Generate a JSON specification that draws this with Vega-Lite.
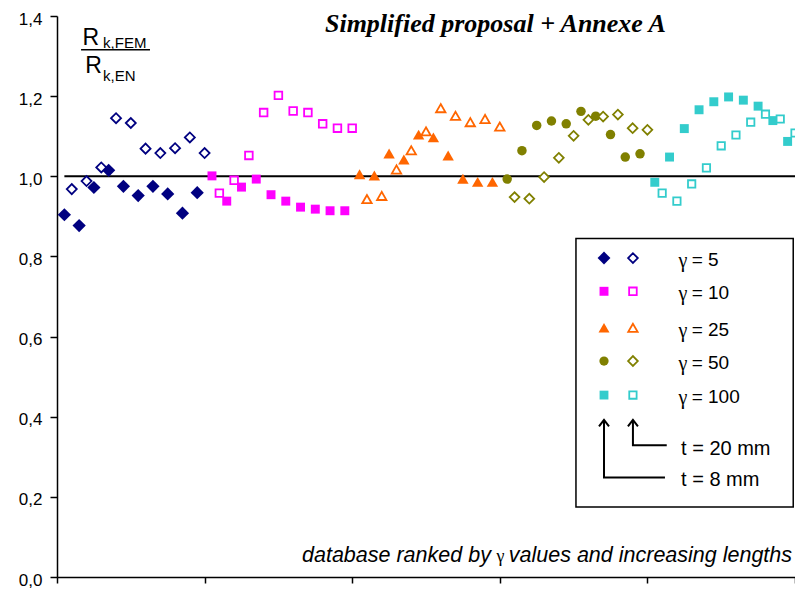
{
  "$schema": "https://vega.github.io/schema/vega-lite/v6.json",
  "width": 738,
  "height": 561,
  "autosize": {"type": "none"},
  "padding": {"left": 57, "top": 16, "right": 0, "bottom": 12},
  "background": "white",
  "config": {"view": {"stroke": null}, "font": "Liberation Sans"},
  "datasets": {
    "points": [
      {"gamma": 5, "t": 8, "n": 0.5, "ratio": 0.904},
      {"gamma": 5, "t": 8, "n": 1.5, "ratio": 0.877},
      {"gamma": 5, "t": 8, "n": 2.5, "ratio": 0.972},
      {"gamma": 5, "t": 8, "n": 3.5, "ratio": 1.015},
      {"gamma": 5, "t": 8, "n": 4.5, "ratio": 0.975},
      {"gamma": 5, "t": 8, "n": 5.5, "ratio": 0.952},
      {"gamma": 5, "t": 8, "n": 6.5, "ratio": 0.975},
      {"gamma": 5, "t": 8, "n": 7.5, "ratio": 0.956},
      {"gamma": 5, "t": 8, "n": 8.5, "ratio": 0.908},
      {"gamma": 5, "t": 8, "n": 9.5, "ratio": 0.959},
      {"gamma": 5, "t": 20, "n": 1, "ratio": 0.968},
      {"gamma": 5, "t": 20, "n": 2, "ratio": 0.988},
      {"gamma": 5, "t": 20, "n": 3, "ratio": 1.022},
      {"gamma": 5, "t": 20, "n": 4, "ratio": 1.145},
      {"gamma": 5, "t": 20, "n": 5, "ratio": 1.133},
      {"gamma": 5, "t": 20, "n": 6, "ratio": 1.069},
      {"gamma": 5, "t": 20, "n": 7, "ratio": 1.058},
      {"gamma": 5, "t": 20, "n": 8, "ratio": 1.070},
      {"gamma": 5, "t": 20, "n": 9, "ratio": 1.097},
      {"gamma": 5, "t": 20, "n": 10, "ratio": 1.058},
      {"gamma": 10, "t": 8, "n": 10.5, "ratio": 1.001},
      {"gamma": 10, "t": 8, "n": 11.5, "ratio": 0.938},
      {"gamma": 10, "t": 8, "n": 12.5, "ratio": 0.973},
      {"gamma": 10, "t": 8, "n": 13.5, "ratio": 0.993},
      {"gamma": 10, "t": 8, "n": 14.5, "ratio": 0.954},
      {"gamma": 10, "t": 8, "n": 15.5, "ratio": 0.938},
      {"gamma": 10, "t": 8, "n": 16.5, "ratio": 0.923},
      {"gamma": 10, "t": 8, "n": 17.5, "ratio": 0.918},
      {"gamma": 10, "t": 8, "n": 18.5, "ratio": 0.914},
      {"gamma": 10, "t": 8, "n": 19.5, "ratio": 0.914},
      {"gamma": 10, "t": 20, "n": 11, "ratio": 0.958},
      {"gamma": 10, "t": 20, "n": 12, "ratio": 0.990},
      {"gamma": 10, "t": 20, "n": 13, "ratio": 1.052},
      {"gamma": 10, "t": 20, "n": 14, "ratio": 1.159},
      {"gamma": 10, "t": 20, "n": 15, "ratio": 1.202},
      {"gamma": 10, "t": 20, "n": 16, "ratio": 1.163},
      {"gamma": 10, "t": 20, "n": 17, "ratio": 1.159},
      {"gamma": 10, "t": 20, "n": 18, "ratio": 1.131},
      {"gamma": 10, "t": 20, "n": 19, "ratio": 1.120},
      {"gamma": 10, "t": 20, "n": 20, "ratio": 1.120},
      {"gamma": 25, "t": 8, "n": 20.5, "ratio": 1.005},
      {"gamma": 25, "t": 8, "n": 21.5, "ratio": 1.002},
      {"gamma": 25, "t": 8, "n": 22.5, "ratio": 1.057},
      {"gamma": 25, "t": 8, "n": 23.5, "ratio": 1.042},
      {"gamma": 25, "t": 8, "n": 24.5, "ratio": 1.104},
      {"gamma": 25, "t": 8, "n": 25.5, "ratio": 1.097},
      {"gamma": 25, "t": 8, "n": 26.5, "ratio": 1.052},
      {"gamma": 25, "t": 8, "n": 27.5, "ratio": 0.994},
      {"gamma": 25, "t": 8, "n": 28.5, "ratio": 0.986},
      {"gamma": 25, "t": 8, "n": 29.5, "ratio": 0.986},
      {"gamma": 25, "t": 20, "n": 21, "ratio": 0.943},
      {"gamma": 25, "t": 20, "n": 22, "ratio": 0.951},
      {"gamma": 25, "t": 20, "n": 23, "ratio": 1.017},
      {"gamma": 25, "t": 20, "n": 24, "ratio": 1.065},
      {"gamma": 25, "t": 20, "n": 25, "ratio": 1.112},
      {"gamma": 25, "t": 20, "n": 26, "ratio": 1.170},
      {"gamma": 25, "t": 20, "n": 27, "ratio": 1.151},
      {"gamma": 25, "t": 20, "n": 28, "ratio": 1.135},
      {"gamma": 25, "t": 20, "n": 29, "ratio": 1.143},
      {"gamma": 25, "t": 20, "n": 30, "ratio": 1.124},
      {"gamma": 50, "t": 8, "n": 30.5, "ratio": 0.993},
      {"gamma": 50, "t": 8, "n": 31.5, "ratio": 1.064},
      {"gamma": 50, "t": 8, "n": 32.5, "ratio": 1.127},
      {"gamma": 50, "t": 8, "n": 33.5, "ratio": 1.138},
      {"gamma": 50, "t": 8, "n": 34.5, "ratio": 1.131},
      {"gamma": 50, "t": 8, "n": 35.5, "ratio": 1.162},
      {"gamma": 50, "t": 8, "n": 36.5, "ratio": 1.150},
      {"gamma": 50, "t": 8, "n": 37.5, "ratio": 1.104},
      {"gamma": 50, "t": 8, "n": 38.5, "ratio": 1.048},
      {"gamma": 50, "t": 8, "n": 39.5, "ratio": 1.056},
      {"gamma": 50, "t": 20, "n": 31, "ratio": 0.948},
      {"gamma": 50, "t": 20, "n": 32, "ratio": 0.944},
      {"gamma": 50, "t": 20, "n": 33, "ratio": 0.998},
      {"gamma": 50, "t": 20, "n": 34, "ratio": 1.046},
      {"gamma": 50, "t": 20, "n": 35, "ratio": 1.101},
      {"gamma": 50, "t": 20, "n": 36, "ratio": 1.141},
      {"gamma": 50, "t": 20, "n": 37, "ratio": 1.149},
      {"gamma": 50, "t": 20, "n": 38, "ratio": 1.154},
      {"gamma": 50, "t": 20, "n": 39, "ratio": 1.120},
      {"gamma": 50, "t": 20, "n": 40, "ratio": 1.116},
      {"gamma": 100, "t": 8, "n": 40.5, "ratio": 0.985},
      {"gamma": 100, "t": 8, "n": 41.5, "ratio": 1.048},
      {"gamma": 100, "t": 8, "n": 42.5, "ratio": 1.119},
      {"gamma": 100, "t": 8, "n": 43.5, "ratio": 1.166},
      {"gamma": 100, "t": 8, "n": 44.5, "ratio": 1.186},
      {"gamma": 100, "t": 8, "n": 45.5, "ratio": 1.198},
      {"gamma": 100, "t": 8, "n": 46.5, "ratio": 1.190},
      {"gamma": 100, "t": 8, "n": 47.5, "ratio": 1.175},
      {"gamma": 100, "t": 8, "n": 48.5, "ratio": 1.139},
      {"gamma": 100, "t": 8, "n": 49.5, "ratio": 1.087},
      {"gamma": 100, "t": 20, "n": 41, "ratio": 0.958},
      {"gamma": 100, "t": 20, "n": 42, "ratio": 0.938},
      {"gamma": 100, "t": 20, "n": 43, "ratio": 0.981},
      {"gamma": 100, "t": 20, "n": 44, "ratio": 1.021},
      {"gamma": 100, "t": 20, "n": 45, "ratio": 1.076},
      {"gamma": 100, "t": 20, "n": 46, "ratio": 1.103},
      {"gamma": 100, "t": 20, "n": 47, "ratio": 1.135},
      {"gamma": 100, "t": 20, "n": 48, "ratio": 1.155},
      {"gamma": 100, "t": 20, "n": 49, "ratio": 1.143},
      {"gamma": 100, "t": 20, "n": 50, "ratio": 1.108}
    ],
    "legend": [
      {"gamma": 5, "label": "= 5", "ly": 0.796},
      {"gamma": 10, "label": "= 10", "ly": 0.713},
      {"gamma": 25, "label": "= 25", "ly": 0.622},
      {"gamma": 50, "label": "= 50", "ly": 0.539},
      {"gamma": 100, "label": "= 100", "ly": 0.454}
    ],
    "arrows": [
      {"arrow": "t8", "step": 0, "ax": 37.06, "ay": 0.392},
      {"arrow": "t8", "step": 1, "ax": 37.06, "ay": 0.248},
      {"arrow": "t8", "step": 2, "ax": 41.19, "ay": 0.248},
      {"arrow": "t20", "step": 0, "ax": 39.02, "ay": 0.392},
      {"arrow": "t20", "step": 1, "ax": 39.02, "ay": 0.329},
      {"arrow": "t20", "step": 2, "ax": 41.31, "ay": 0.329}
    ],
    "note": [
      {"label": "database ranked by", "tx": 16.6, "ty": 0.038, "side": "left"},
      {"label": "values and increasing lengths", "tx": 49.8, "ty": 0.038, "side": "right"}
    ]
  },
  "layer": [
    {
      "data": {"values": [{"x0": 0.5, "x1": 50, "level": 1}]},
      "mark": {"type": "rule", "color": "black", "strokeWidth": 2},
      "encoding": {
        "x": {
          "field": "x0", "type": "quantitative",
          "scale": {"domain": [0, 50], "nice": false, "zero": false},
          "axis": {
            "values": [0, 10, 20, 30, 40, 50], "labels": false, "grid": false, "title": null,
            "tickSize": 6, "tickWidth": 1.5, "tickColor": "black",
            "domainColor": "black", "domainWidth": 1.5
          }
        },
        "x2": {"field": "x1"},
        "y": {
          "field": "level", "type": "quantitative",
          "scale": {"domain": [0, 1.4], "nice": false},
          "axis": {
            "values": [0, 0.2, 0.4, 0.6, 0.8, 1, 1.2, 1.4],
            "labelExpr": "replace(format(datum.value, '.1f'), '.', ',')",
            "grid": false, "title": null,
            "tickSize": 7, "tickWidth": 1.5, "tickColor": "black",
            "domainColor": "black", "domainWidth": 1.5,
            "labelColor": "black", "labelFontSize": 17, "labelPadding": 8, "labelOffset": 3
          }
        }
      }
    },
    {
      "data": {"name": "points"},
      "transform": [{"filter": "datum.t === 8"}],
      "mark": {"type": "point", "filled": true, "opacity": 1, "strokeWidth": 0},
      "encoding": {
        "x": {"field": "n", "type": "quantitative", "axis": null},
        "y": {"field": "ratio", "type": "quantitative", "axis": null},
        "color": {"field": "gamma", "type": "nominal", "legend": null,
          "scale": {"domain": [5, 10, 25, 50, 100], "range": ["#000080", "#FF00FF", "#FF6600", "#808000", "#33CCCC"]}},
        "shape": {"field": "gamma", "type": "nominal", "legend": null,
          "scale": {"domain": [5, 10, 25, 50, 100], "range": ["diamond", "square", "triangle-up", "circle", "square"]}},
        "size": {"field": "gamma", "type": "ordinal", "legend": null,
          "scale": {"type": "ordinal", "domain": [5, 10, 25, 50, 100], "range": [175, 80, 130, 90, 80]}}
      }
    },
    {
      "data": {"name": "points"},
      "transform": [{"filter": "datum.t === 20"}],
      "mark": {"type": "point", "filled": true, "fill": "white", "opacity": 1, "strokeWidth": 1.8},
      "encoding": {
        "x": {"field": "n", "type": "quantitative", "axis": null},
        "y": {"field": "ratio", "type": "quantitative", "axis": null},
        "stroke": {"field": "gamma", "type": "nominal", "legend": null,
          "scale": {"domain": [5, 10, 25, 50, 100], "range": ["#000080", "#FF00FF", "#FF6600", "#808000", "#33CCCC"]}},
        "shape": {"field": "gamma", "type": "nominal", "legend": null,
          "scale": {"domain": [5, 10, 25, 50, 100], "range": ["diamond", "square", "triangle-up", "diamond", "square"]}},
        "size": {"field": "gamma", "type": "ordinal", "legend": null,
          "scale": {"type": "ordinal", "domain": [5, 10, 25, 50, 100], "range": [100, 58, 88, 95, 54]}}
      }
    },
    {
      "data": {"values": [{"x0": 35.16, "x1": 49.88, "y0": 0.845, "y1": 0.1746}]},
      "mark": {"type": "rect", "fill": "white", "stroke": "black", "strokeWidth": 1.5},
      "encoding": {
        "x": {"field": "x0", "type": "quantitative", "axis": null},
        "x2": {"field": "x1"},
        "y": {"field": "y0", "type": "quantitative", "axis": null},
        "y2": {"field": "y1"}
      }
    },
    {
      "data": {"name": "legend"},
      "mark": {"type": "point", "filled": true, "opacity": 1, "strokeWidth": 0},
      "encoding": {
        "x": {"datum": 37.06, "type": "quantitative", "axis": null},
        "y": {"field": "ly", "type": "quantitative", "axis": null},
        "color": {"field": "gamma", "type": "nominal", "legend": null,
          "scale": {"domain": [5, 10, 25, 50, 100], "range": ["#000080", "#FF00FF", "#FF6600", "#808000", "#33CCCC"]}},
        "shape": {"field": "gamma", "type": "nominal", "legend": null,
          "scale": {"domain": [5, 10, 25, 50, 100], "range": ["diamond", "square", "triangle-up", "circle", "square"]}},
        "size": {"field": "gamma", "type": "ordinal", "legend": null,
          "scale": {"type": "ordinal", "domain": [5, 10, 25, 50, 100], "range": [165, 80, 120, 85, 78]}}
      }
    },
    {
      "data": {"name": "legend"},
      "mark": {"type": "point", "filled": true, "fill": "white", "opacity": 1, "strokeWidth": 1.8},
      "encoding": {
        "x": {"datum": 39.02, "type": "quantitative", "axis": null},
        "y": {"field": "ly", "type": "quantitative", "axis": null},
        "stroke": {"field": "gamma", "type": "nominal", "legend": null,
          "scale": {"domain": [5, 10, 25, 50, 100], "range": ["#000080", "#FF00FF", "#FF6600", "#808000", "#33CCCC"]}},
        "shape": {"field": "gamma", "type": "nominal", "legend": null,
          "scale": {"domain": [5, 10, 25, 50, 100], "range": ["diamond", "square", "triangle-up", "diamond", "square"]}},
        "size": {"field": "gamma", "type": "ordinal", "legend": null,
          "scale": {"type": "ordinal", "domain": [5, 10, 25, 50, 100], "range": [95, 58, 88, 95, 54]}}
      }
    },
    {
      "data": {"name": "legend"},
      "mark": {"type": "text", "align": "left", "baseline": "middle", "dy": 3, "font": "Liberation Serif", "fontSize": 20, "color": "black"},
      "encoding": {
        "x": {"datum": 42.1, "type": "quantitative", "axis": null},
        "y": {"field": "ly", "type": "quantitative", "axis": null},
        "text": {"value": "γ"}
      }
    },
    {
      "data": {"name": "legend"},
      "mark": {"type": "text", "align": "left", "baseline": "middle", "dy": 2, "fontSize": 19, "color": "black"},
      "encoding": {
        "x": {"datum": 43.0, "type": "quantitative", "axis": null},
        "y": {"field": "ly", "type": "quantitative", "axis": null},
        "text": {"field": "label"}
      }
    },
    {
      "data": {"name": "arrows"},
      "mark": {"type": "line", "color": "black", "strokeWidth": 2},
      "encoding": {
        "x": {"field": "ax", "type": "quantitative", "axis": null},
        "y": {"field": "ay", "type": "quantitative", "axis": null},
        "detail": {"field": "arrow"},
        "order": {"field": "step"}
      }
    },
    {
      "data": {"name": "arrows"},
      "transform": [{"filter": "datum.step === 0"}],
      "mark": {"type": "point", "shape": "M -1 1.3 L 0 0 L 1 1.3", "filled": false, "stroke": "black", "strokeWidth": 2, "size": 100, "opacity": 1},
      "encoding": {
        "x": {"field": "ax", "type": "quantitative", "axis": null},
        "y": {"field": "ay", "type": "quantitative", "axis": null}
      }
    },
    {
      "data": {"values": [{"label": "t = 20 mm", "ly": 0.322}, {"label": "t = 8 mm", "ly": 0.244}]},
      "mark": {"type": "text", "align": "left", "baseline": "middle", "dy": 1, "fontSize": 20, "color": "black"},
      "encoding": {
        "x": {"datum": 42.28, "type": "quantitative", "axis": null},
        "y": {"field": "ly", "type": "quantitative", "axis": null},
        "text": {"field": "label"}
      }
    },
    {
      "data": {"values": [{"label": "Simplified proposal + Annexe A", "tx": 29.7, "ty": 1.359}]},
      "mark": {"type": "text", "align": "center", "baseline": "alphabetic", "font": "Liberation Serif", "fontStyle": "italic", "fontWeight": "bold", "fontSize": 26, "color": "black"},
      "encoding": {
        "x": {"field": "tx", "type": "quantitative", "axis": null},
        "y": {"field": "ty", "type": "quantitative", "axis": null},
        "text": {"field": "label"}
      }
    },
    {
      "data": {"values": [{"label": "R", "tx": 1.72, "ty": 1.328}, {"label": "R", "tx": 1.92, "ty": 1.259}]},
      "mark": {"type": "text", "align": "left", "baseline": "alphabetic", "fontSize": 23, "color": "black"},
      "encoding": {
        "x": {"field": "tx", "type": "quantitative", "axis": null},
        "y": {"field": "ty", "type": "quantitative", "axis": null},
        "text": {"field": "label"}
      }
    },
    {
      "data": {"values": [{"label": "k,FEM", "tx": 3.12, "ty": 1.320}, {"label": "k,EN", "tx": 3.12, "ty": 1.239}]},
      "mark": {"type": "text", "align": "left", "baseline": "alphabetic", "fontSize": 15, "color": "black"},
      "encoding": {
        "x": {"field": "tx", "type": "quantitative", "axis": null},
        "y": {"field": "ty", "type": "quantitative", "axis": null},
        "text": {"field": "label"}
      }
    },
    {
      "data": {"values": [{"x0": 1.63, "x1": 6.3, "level": 1.316}]},
      "mark": {"type": "rule", "color": "black", "strokeWidth": 1.5},
      "encoding": {
        "x": {"field": "x0", "type": "quantitative", "axis": null},
        "x2": {"field": "x1"},
        "y": {"field": "level", "type": "quantitative", "axis": null}
      }
    },
    {
      "data": {"name": "note"},
      "transform": [{"filter": "datum.side === 'left'"}],
      "mark": {"type": "text", "align": "left", "baseline": "alphabetic", "fontStyle": "italic", "fontSize": 21.5, "color": "black"},
      "encoding": {
        "x": {"field": "tx", "type": "quantitative", "axis": null},
        "y": {"field": "ty", "type": "quantitative", "axis": null},
        "text": {"field": "label"}
      }
    },
    {
      "data": {"name": "note"},
      "transform": [{"filter": "datum.side === 'right'"}],
      "mark": {"type": "text", "align": "right", "baseline": "alphabetic", "fontStyle": "italic", "fontSize": 21.5, "color": "black"},
      "encoding": {
        "x": {"field": "tx", "type": "quantitative", "axis": null},
        "y": {"field": "ty", "type": "quantitative", "axis": null},
        "text": {"field": "label"}
      }
    },
    {
      "data": {"values": [{"label": "γ", "tx": 30.05, "ty": 0.038}]},
      "mark": {"type": "text", "align": "center", "baseline": "alphabetic", "font": "Liberation Serif", "fontSize": 18, "color": "black"},
      "encoding": {
        "x": {"field": "tx", "type": "quantitative", "axis": null},
        "y": {"field": "ty", "type": "quantitative", "axis": null},
        "text": {"field": "label"}
      }
    }
  ],
  "resolve": {
    "scale": {"shape": "independent", "size": "independent", "color": "independent", "stroke": "independent"},
    "axis": {"x": "independent", "y": "independent"}
  }
}
